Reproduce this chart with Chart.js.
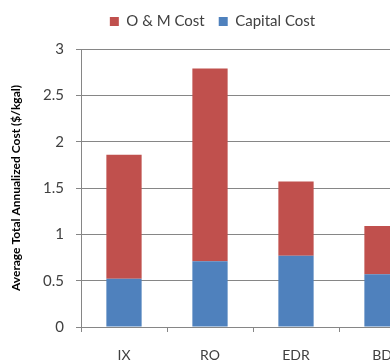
<!DOCTYPE html>
<html>
<head>
<meta charset="utf-8">
<script src="https://cdn.jsdelivr.net/npm/chart.js@4"></script>
<style>
  html, body { margin: 0; padding: 0; background: #fff; overflow: hidden; }
  #wrap { width: 450px; height: 363px; }
</style>
</head>
<body>
<div id="wrap"><canvas id="c" width="450" height="363"></canvas></div>
<script>
const categories = ['IX', 'RO', 'EDR', 'BD'];
const capitalCost = [0.52, 0.71, 0.77, 0.57];
const omCost = [1.34, 2.08, 0.80, 0.52];
const yTicks = [0, 0.5, 1, 1.5, 2, 2.5, 3];

const gridGray = '#868686';
const textGray = '#404040';

// extra room below the legend row
const legendGap = {
  id: 'legendGap',
  afterInit(chart) {
    const lg = chart.legend;
    if (!lg) return;
    const fit = lg.fit;
    lg.fit = function () { fit.call(this); this.height += 10; };
  }
};

new Chart(document.getElementById('c'), {
  type: 'bar',
  data: {
    labels: categories,
    datasets: [
      { label: 'Capital Cost', data: capitalCost, backgroundColor: '#4F81BD', borderWidth: 0 },
      { label: 'O & M Cost', data: omCost, backgroundColor: '#C0504D', borderWidth: 0 }
    ]
  },
  plugins: [legendGap],
  options: {
    responsive: false,
    animation: false,
    devicePixelRatio: 1,
    layout: { padding: { top: 0, right: 25, left: 0, bottom: 0 } },
    datasets: { bar: { categoryPercentage: 0.41, barPercentage: 1 } },
    plugins: {
      tooltip: { enabled: false },
      legend: {
        position: 'top',
        reverse: true,
        labels: {
          boxWidth: 9, boxHeight: 9, padding: 14,
          color: textGray,
          font: { family: 'Lato', size: 15 }
        }
      }
    },
    scales: {
      x: {
        stacked: true,
        grid: { display: true, drawOnChartArea: false, offset: true, color: gridGray, tickLength: 5 },
        border: { color: gridGray },
        ticks: { color: textGray, font: { family: 'Lato', size: 14 }, padding: 15 },
        afterFit: s => { s.height = 36; }
      },
      y: {
        stacked: true,
        min: 0, max: 3,
        afterBuildTicks: s => { s.ticks = yTicks.map(v => ({ value: v })); },
        grid: { color: gridGray, tickLength: 5 },
        border: { color: gridGray },
        ticks: {
          color: textGray, font: { family: 'Lato', size: 15 }, padding: 12,
          callback: v => String(v)
        },
        title: {
          display: true,
          text: 'Average Total Annualized Cost ($/kgal)',
          color: '#000',
          font: { family: 'Lato', size: 12, weight: 'bold' },
          padding: { top: 9, bottom: 2 }
        },
        afterFit: s => { s.width = 81; }
      }
    }
  }
});
</script>
</body>
</html>
